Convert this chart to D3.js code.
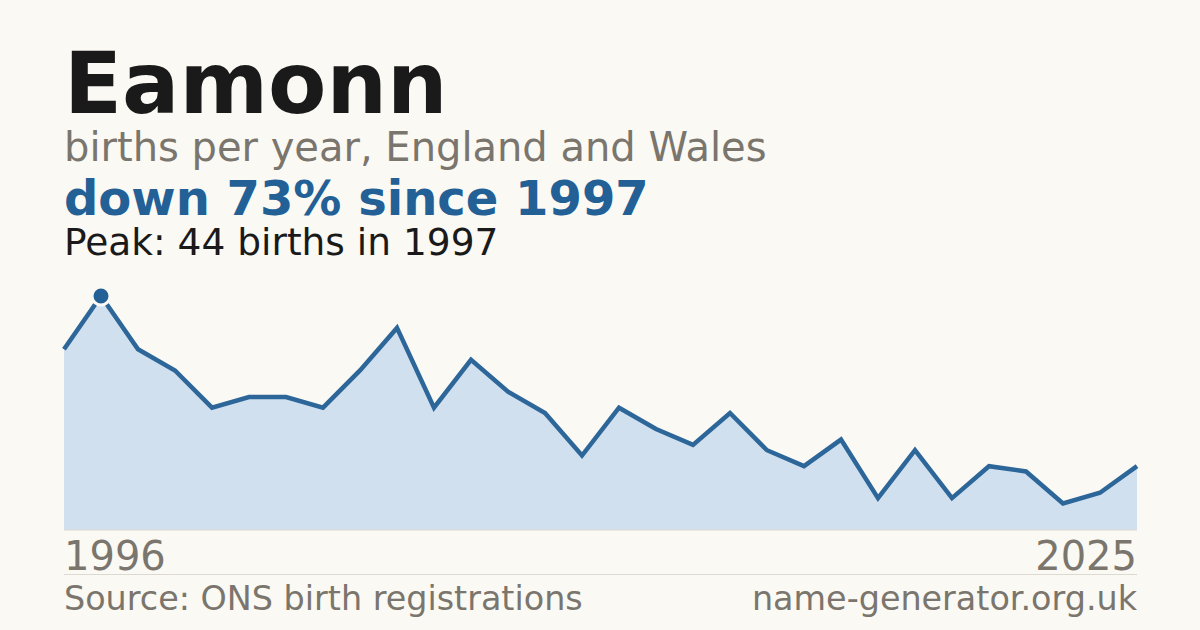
<!DOCTYPE html>
<html>
<head>
<meta charset="utf-8">
<script src="https://d3js.org/d3.v7.min.js"></script>
<style>
  html, body { margin: 0; padding: 0; background: #faf9f4; }
  svg { display: block; font-family: "DejaVu Sans", sans-serif; }
</style>
</head>
<body>
<svg id="chart"></svg>
<script>
  // Births per year for the name
  const years = [1996, 1997, 1998, 1999, 2000, 2001, 2002, 2003, 2004, 2005,
                 2006, 2007, 2008, 2009, 2010, 2011, 2012, 2013, 2014, 2015,
                 2016, 2017, 2018, 2019, 2020, 2021, 2022, 2023, 2024, 2025];
  const births = [34, 44, 34, 30, 23, 25, 25, 23, 30, 38,
                  23, 32, 26, 22, 14, 23, 19, 16, 22, 15,
                  12, 17, 6, 15, 6, 12, 11, 5, 7, 12];

  const nameTitle = "Eamonn";
  const subtitle = "births per year, England and Wales";
  const sourceText = "Source: ONS birth registrations";
  const siteText = "name-generator.org.uk";

  const width = 1200, height = 630;
  const plotLeft = 64, plotRight = 1137, plotTop = 296, plotBottom = 530;

  const data = years.map((yr, i) => ({ year: yr, value: births[i] }));
  const peak = data.reduce((a, b) => (b.value > a.value ? b : a));
  const last = data[data.length - 1];
  const change = Math.round((1 - last.value / peak.value) * 100);

  const svg = d3.select("#chart")
    .attr("width", width)
    .attr("height", height);

  svg.append("rect")
    .attr("width", width)
    .attr("height", height)
    .attr("fill", "#faf9f4");

  const x = d3.scaleLinear()
    .domain(d3.extent(years))
    .range([plotLeft, plotRight]);

  const y = d3.scaleLinear()
    .domain([0, peak.value])
    .range([plotBottom, plotTop]);

  // Header texts
  svg.append("text")
    .attr("x", plotLeft).attr("y", 113)
    .attr("font-size", 85).attr("font-weight", "bold")
    .attr("fill", "#1a1a1a")
    .text(nameTitle);

  svg.append("text")
    .attr("x", plotLeft).attr("y", 161)
    .attr("font-size", 40)
    .attr("fill", "#7a756d")
    .text(subtitle);

  svg.append("text")
    .attr("x", plotLeft).attr("y", 215)
    .attr("font-size", 48).attr("font-weight", "bold")
    .attr("fill", "#226096")
    .text(`down ${change}% since ${peak.year}`);

  svg.append("text")
    .attr("x", plotLeft).attr("y", 255)
    .attr("font-size", 37.5)
    .attr("fill", "#1a1a1a")
    .text(`Peak: ${peak.value} births in ${peak.year}`);

  // Area and line
  const area = d3.area()
    .x(d => x(d.year))
    .y0(plotBottom)
    .y1(d => y(d.value));

  const line = d3.line()
    .x(d => x(d.year))
    .y(d => y(d.value));

  svg.append("path")
    .datum(data)
    .attr("d", area)
    .attr("fill", "#d0e0ef");

  svg.append("line")
    .attr("x1", plotLeft).attr("x2", plotRight)
    .attr("y1", plotBottom).attr("y2", plotBottom)
    .attr("stroke", "#dcd9d2")
    .attr("stroke-width", 1);

  svg.append("path")
    .datum(data)
    .attr("d", line)
    .attr("fill", "none")
    .attr("stroke", "#2d6699")
    .attr("stroke-width", 4.5)
    .attr("stroke-linejoin", "miter");

  // Peak marker
  svg.append("circle")
    .attr("cx", x(peak.year))
    .attr("cy", y(peak.value))
    .attr("r", 9)
    .attr("fill", "#226096")
    .attr("stroke", "#faf9f4")
    .attr("stroke-width", 3);

  // Year labels
  svg.append("text")
    .attr("x", plotLeft).attr("y", 570)
    .attr("font-size", 40)
    .attr("fill", "#7a756d")
    .text(years[0]);

  svg.append("text")
    .attr("x", plotRight).attr("y", 570)
    .attr("text-anchor", "end")
    .attr("font-size", 40)
    .attr("fill", "#7a756d")
    .text(years[years.length - 1]);

  // Footer
  svg.append("line")
    .attr("x1", plotLeft).attr("x2", plotRight)
    .attr("y1", 574.5).attr("y2", 574.5)
    .attr("stroke", "#dcd9d2")
    .attr("stroke-width", 1);

  svg.append("text")
    .attr("x", plotLeft).attr("y", 610)
    .attr("font-size", 33.4)
    .attr("fill", "#7a756d")
    .text(sourceText);

  svg.append("text")
    .attr("x", plotRight).attr("y", 610)
    .attr("text-anchor", "end")
    .attr("font-size", 33.4)
    .attr("fill", "#7a756d")
    .text(siteText);
</script>
</body>
</html>
